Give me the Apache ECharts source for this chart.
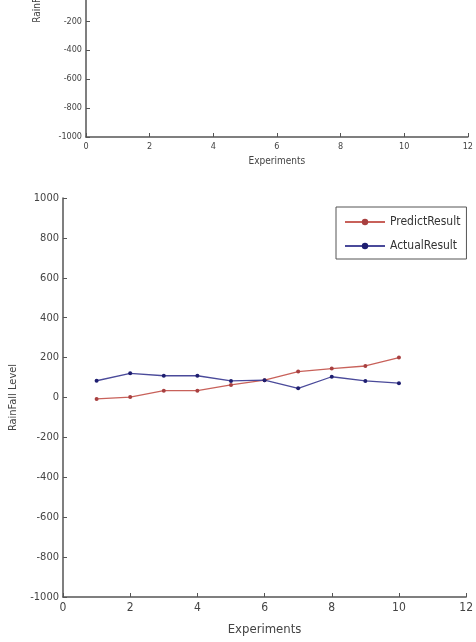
<!DOCTYPE html>
<html><head><meta charset="utf-8">
<script src="https://cdn.jsdelivr.net/npm/echarts@6/dist/echarts.min.js"></script>
<style>html,body{margin:0;padding:0;background:#fff;overflow:hidden;width:476px;height:642px;}
#wrap{position:relative;width:476px;height:642px;overflow:hidden;}
#c{position:absolute;left:0;top:-157px;width:476px;height:799px;}</style>
</head><body><div id="wrap"><div id="c"></div></div>
<script>
const experiments = [1,2,3,4,5,6,7,8,9,10];
const predictResult = [-7, 2, 34, 34, 63, 87, 130, 145, 158, 200];
const actualResult = [84, 121, 109, 109, 83, 87, 46, 104, 83, 72];
const xTicks = {min:0, max:12, interval:2};
const yTicks = {min:-1000, max:1000, interval:200};
const xName = 'Experiments';
const yName = 'RainFall Level';
const seriesNames = ['PredictResult','ActualResult'];

const FONT = "'Liberation Sans Narrow','Arial Narrow','DejaVu Sans Condensed','Liberation Sans',sans-serif";
const axisLine = {show:true, onZero:false, lineStyle:{color:'#555', width:1.5}};
const fmt = v => String(v);
function xAxis(gi, fs, gap){
  return {type:'value', gridIndex:gi, min:xTicks.min, max:xTicks.max, interval:xTicks.interval,
    name:xName, nameLocation:'middle', nameGap:gap, nameTextStyle:{fontFamily:FONT, fontSize:fs+1, color:'#444'},
    axisLine:axisLine, axisTick:{show:true, inside:true, length:4, lineStyle:{color:'#555'}},
    axisLabel:{fontFamily:FONT, fontSize:fs, color:'#444', margin:5, formatter:fmt}, splitLine:{show:false}};
}
function yAxis(gi, fs, gap){
  return {type:'value', gridIndex:gi, min:yTicks.min, max:yTicks.max, interval:yTicks.interval,
    name:yName, nameLocation:'middle', nameGap:gap, nameRotate:90, nameTextStyle:{fontFamily:FONT, fontSize:fs, color:'#444'},
    axisLine:axisLine, axisTick:{show:true, inside:true, length:4, lineStyle:{color:'#555'}},
    axisLabel:{fontFamily:FONT, fontSize:fs, color:'#444', margin:4, formatter:fmt}, splitLine:{show:false}};
}
const chart = echarts.init(document.getElementById('c'), null, {renderer:'canvas'});
const ya0 = yAxis(0, 9, 44); ya0.nameTextStyle.fontSize = 10;
chart.setOption({
  animation:false,
  backgroundColor:'#fff',
  grid:[
    {left:86, right:6, top:0, height:294},
    {left:62, right:6, top:355, height:399}
  ],
  xAxis:[xAxis(0, 9, 19), xAxis(1, 12, 26)],
  yAxis:[ya0, yAxis(1, 11, 44)],
  legend:{
    orient:'vertical', left:336, top:364, data:seriesNames,
    borderColor:'#555', borderWidth:1, padding:[9,6,7,8], itemGap:12,
    itemWidth:40, itemHeight:8,
    textStyle:{fontFamily:FONT, fontSize:12, color:'#333'}
  },
  series:[
    {name:seriesNames[0], type:'line', xAxisIndex:1, yAxisIndex:1,
      data:experiments.map((x,i)=>[x,predictResult[i]]),
      symbol:'circle', symbolSize:4, lineStyle:{color:'#c8615a', width:1.3}, itemStyle:{color:'#a84040'}},
    {name:seriesNames[1], type:'line', xAxisIndex:1, yAxisIndex:1,
      data:experiments.map((x,i)=>[x,actualResult[i]]),
      symbol:'circle', symbolSize:4, lineStyle:{color:'#4a4a9a', width:1.3}, itemStyle:{color:'#1e1e70'}}
  ]
});
</script></body></html>
